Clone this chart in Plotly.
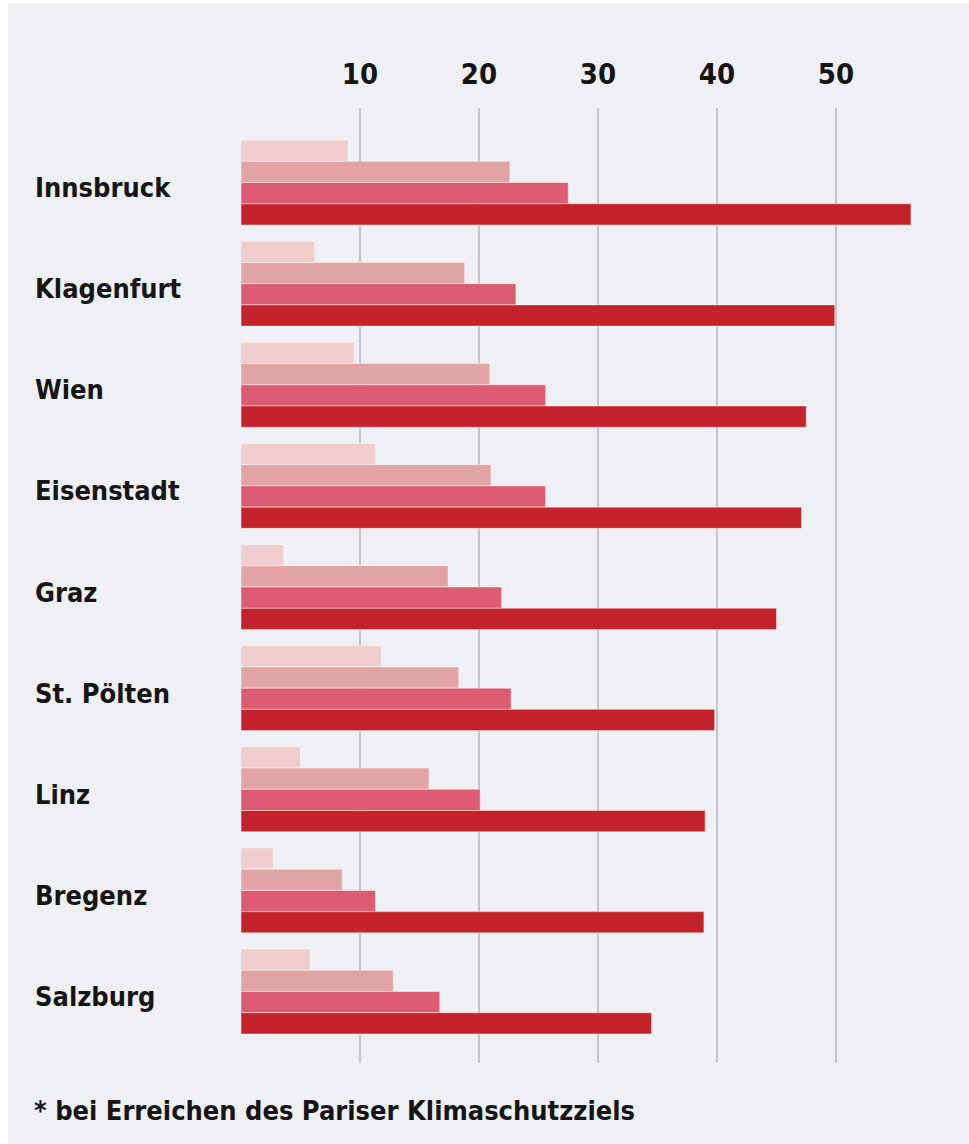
import plotly.graph_objects as go

# Städte (von oben nach unten) und die vier Werte je Stadt
cities = ["Innsbruck", "Klagenfurt", "Wien", "Eisenstadt", "Graz",
          "St. Pölten", "Linz", "Bregenz", "Salzburg"]
series_1 = [9.0, 6.2, 9.5, 11.3, 3.6, 11.8, 5.0, 2.7, 5.8]
series_2 = [22.6, 18.8, 20.9, 21.0, 17.4, 18.3, 15.8, 8.5, 12.8]
series_3 = [27.5, 23.1, 25.6, 25.6, 21.9, 22.7, 20.1, 11.3, 16.7]
series_4 = [56.3, 49.9, 47.5, 47.1, 45.0, 39.8, 39.0, 38.9, 34.5]

tick_values = [0, 10, 20, 30, 40, 50, 60]
tick_labels = ["", "10", "20", "30", "40", "50", ""]
footnote = "* bei Erreichen des Pariser Klimaschutzziels"

colors = ["#efcdce", "#e2a3a5", "#dc5d72", "#c5232c"]
BG = "#eff0f4"
FONT = "Noto Sans Condensed, DejaVu Sans Condensed, sans-serif"

W, H = 969, 1144
L, R, T, B = 241, 14, 108, 81
plot_w = W - L - R
plot_h = H - T - B


def px_x(px):
    return (px - L) / plot_w


def px_y(py):
    return (H - B - py) / plot_h


fig = go.Figure()
for name, vals, col in zip(["Reihe 1", "Reihe 2", "Reihe 3", "Reihe 4"],
                           [series_1, series_2, series_3, series_4], colors):
    fig.add_trace(go.Bar(
        y=cities, x=vals, orientation="h", name=name,
        marker=dict(color=col, line=dict(color="rgba(255,255,255,0.45)", width=1)),
        showlegend=False, hoverinfo="x+y",
    ))

# city labels, left aligned
annotations = []
for c in cities:
    annotations.append(dict(
        x=px_x(33), xref="paper", y=c, yref="y", xanchor="left", yanchor="middle",
        text=c, showarrow=False, yshift=-5,
        font=dict(family=FONT, size=27, color="#151515", weight="bold"),
    ))
annotations.append(dict(
    x=px_x(32), xref="paper", y=px_y(1110), yref="paper",
    xanchor="left", yanchor="middle", text=footnote, showarrow=False,
    font=dict(family=FONT, size=27, color="#151515", weight="bold"),
))

fig.update_layout(
    width=W, height=H,
    margin=dict(l=L, r=R, t=T, b=B, pad=0),
    paper_bgcolor="white",
    plot_bgcolor="rgba(0,0,0,0)",
    barmode="group", bargap=0.16, bargroupgap=0,
    annotations=annotations,
    shapes=[dict(type="rect", xref="paper", yref="paper", layer="below",
                 x0=px_x(8), x1=px_x(W + 5), y0=px_y(H + 5), y1=px_y(3),
                 fillcolor=BG, line=dict(width=0))],
    xaxis=dict(
        side="top", range=[0, 60], tickvals=tick_values, ticktext=tick_labels,
        showgrid=True, gridcolor="#c4c5c9", gridwidth=2, zeroline=False,
        showline=False, ticks="", ticklabelstandoff=17,
        tickfont=dict(family=FONT, size=29, color="#151515", weight="bold"),
        fixedrange=True,
    ),
    yaxis=dict(
        range=[8.707, -0.737], showticklabels=False, showgrid=False,
        zeroline=False, showline=False, ticks="", fixedrange=True,
    ),
)

fig.write_html("out.html")
